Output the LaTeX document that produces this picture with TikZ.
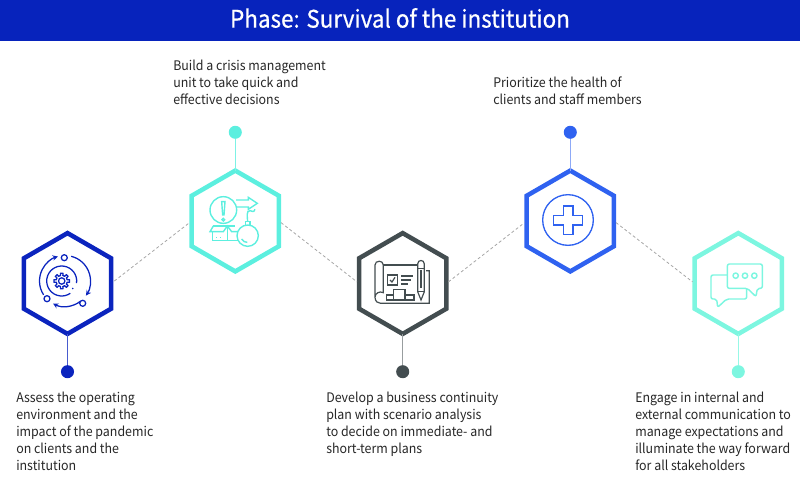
\documentclass[tikz,border=0pt]{standalone}
\usepackage{fontspec}
\setmainfont{Noto Sans CJK JP}
\usetikzlibrary{arrows.meta,shapes.geometric}
\definecolor{headblue}{HTML}{0723BC}
\definecolor{hexnavy}{HTML}{0B24BE}
\definecolor{hexteal}{HTML}{5CEFDF}
\definecolor{hexgrey}{HTML}{434D50}
\definecolor{hexblue}{HTML}{2F62F0}
\definecolor{hexmint}{HTML}{7DF6E0}
\definecolor{bodytext}{HTML}{262626}
\newfontfamily\bodyfont[FakeStretch=0.94]{Noto Sans CJK JP}
\newfontfamily\titlefont[FakeStretch=0.93, FakeBold=0.6]{Noto Sans CJK JP}
\tikzset{
	hexnode/.style={regular polygon, regular polygon sides=6, shape border rotate=30, draw=#1, line width=3.4pt, minimum size=75.6pt, inner sep=0pt, outer sep=0pt},
	dotnode/.style={circle, fill=#1, minimum size=9.8pt, inner sep=0pt},
	dashlink/.style={draw=black!35, line width=0.6pt, dash pattern=on 2.2pt off 1.8pt},
	bodynode/.style={anchor=north west, inner sep=0pt, align=left, text=bodytext, font=\bodyfont\fontsize{9.9}{12.75}\selectfont},
}

\begin{document}
\begin{tikzpicture}[x=0.75pt, y=0.75pt]
		%%%%% START %%%%%
		\useasboundingbox (0, 0) rectangle (800, -500);
		
		\fill[headblue] (0, 0) rectangle (800, -41);
		\node[text=white, font=\titlefont\fontsize{18.1}{22}\selectfont] (title) at (400, -18) {Phase: Survival of the institution};
		
		\node[hexnode=hexnavy] (hex1) at (67.5, -283.5) {};
		\node[hexnode=hexteal] (hex2) at (235.3, -221) {};
		\node[hexnode=hexgrey] (hex3) at (402.7, -283.5) {};
		\node[hexnode=hexblue] (hex4) at (570.3, -221) {};
		\node[hexnode=hexmint] (hex5) at (738.3, -283.5) {};
		
		\node[dotnode=hexnavy] (dot1) at (67.5, -371.7) {};
		\node[dotnode=hexteal] (dot2) at (235.3, -132.3) {};
		\node[dotnode=hexgrey] (dot3) at (402.7, -371.7) {};
		\node[dotnode=hexblue] (dot4) at (570.3, -132.3) {};
		\node[dotnode=hexmint] (dot5) at (738.3, -371.7) {};
		
		\draw[hexnavy!75, line width=0.75pt] (hex1) -- (dot1);
		\draw[hexteal!80, line width=0.75pt] (hex2) -- (dot2);
		\draw[hexgrey!55, line width=1.1pt] (hex3) -- (dot3);
		\draw[hexblue!55, line width=0.9pt] (hex4) -- (dot4);
		\draw[hexmint!80, line width=0.75pt] (hex5) -- (dot5);
		
		\draw[dashlink, shorten <=3pt, shorten >=2pt] (hex1.east) -- (hex2.west);
		\draw[dashlink, shorten <=2pt, shorten >=2pt] (hex2.east) -- (hex3.west);
		\draw[dashlink, shorten <=2pt, shorten >=2pt] (hex3.east) -- (hex4.west);
		\draw[dashlink, shorten <=2pt, shorten >=2pt] (hex4.east) -- (hex5.west);
		
		% gear and cycle
		\begin{scope}[draw=hexnavy, line width=0.95pt]
			\draw (64.3, -257.7) circle (3);
			\draw (82.7, -303.3) circle (3);
			\draw (47, -298.7) circle (3);
			\draw[-{Stealth[open, length=4pt, width=4pt]}] (65, -281) ++(213:25.5) arc (213:106:25.5);
			\draw[-{Stealth[open, length=4pt, width=4pt]}] (65, -281) ++(76:25.5) arc (76:-35:25.5);
			\draw[-{Stealth[open, length=4pt, width=4pt]}] (65, -281) ++(-52:25.5) arc (-52:-118:25.5);
			\draw (61.7, -281) ++(-8:15) arc (-8:305:15);
			\fill[hexnavy] (72.7, -288.5) circle (0.9);
			\draw (61.7, -281) circle (3.2);
			\begin{scope}[shift={(61.7, -281)}]
				\foreach \a in {0,45,...,315}
					\draw[line join=round] (\a-24:5.6) -- (\a-12:5.6) -- (\a-9:7.9) -- (\a+9:7.9) -- (\a+12:5.6) -- (\a+24:5.6);
			\end{scope}
		\end{scope}
		
		% alarm, box and bomb
		\begin{scope}[shift={(170, -120)}, x=0.25pt, y=-0.25pt, draw=hexteal, line width=1.05pt]
			\draw (160, 270) circle (40);
			\draw (155, 245) -- (165, 245) -- (162, 285) -- (158, 285) -- cycle;
			\draw (160, 299) circle (4);
			\draw (198, 240) -- (235, 240) -- (235, 232) -- (262, 250) -- (235, 268) -- (235, 261) -- (198, 261);
			\draw (128, 335) -- (128, 362) -- (205, 362);
			\draw (172, 318) -- (172, 362);
			\draw (130, 318) -- (195, 318);
			\draw (130, 318) -- (120, 335) -- (160, 335) -- (172, 318) -- (185, 335) -- (205, 335);
			\draw[dotted] (138, 352) -- (160, 352);
			\draw[fill=white] (233, 347) circle (32);
			\draw (226, 315) -- (226, 305) -- (240, 305) -- (240, 315);
			\draw (233, 305) .. controls (232, 290) and (228, 272) .. (240, 272) .. controls (248, 272) and (250, 280) .. (255, 268);
			\draw (215, 357) .. controls (220, 365) and (226, 367) .. (232, 367);
		\end{scope}
		
		% blueprint and pencil
		\begin{scope}[shift={(340, -220)}, x=0.25pt, y=-0.25pt, draw=hexgrey, line width=0.9pt]
			\draw (105, 232) -- (105, 135) .. controls (105, 120) and (130, 120) .. (130, 135) -- (130, 218) .. controls (118, 212) and (105, 220) .. (105, 232) .. controls (105, 245) and (115, 250) .. (122, 250) -- (268, 250) -- (268, 152) -- (258, 152);
			\draw (130, 135) -- (232, 135);
			\draw (233, 132) .. controls (233, 118) and (253, 118) .. (253, 132) -- (253, 215) -- (243, 240) -- (233, 215) -- cycle;
			\draw (233, 145) -- (253, 145);
			\draw (233, 215) -- (253, 215);
			\draw (243, 150) -- (243, 205);
			\draw (142, 165) rectangle (172, 195);
			\draw (150, 180) -- (156, 186) -- (165, 172);
			\draw (183, 168) -- (220, 168);
			\draw (183, 180) -- (212, 180);
			\draw (183, 192) -- (205, 192);
			\draw (140, 240) -- (140, 225) -- (160, 225) -- (160, 208) -- (195, 208) -- (195, 225) -- (222, 225) -- (222, 240) -- cycle;
			\draw (160, 225) -- (160, 240);
			\draw (195, 225) -- (195, 240);
		\end{scope}
		
		% medical cross
		\begin{scope}[shift={(510, -120)}, x=0.25pt, y=-0.25pt, draw=hexblue, line width=1pt]
			\draw (174, 300) circle (76);
			\draw (160, 258) -- (189, 258) -- (189, 286) -- (218, 286) -- (218, 315) -- (189, 315) -- (189, 343) -- (160, 343) -- (160, 315) -- (131, 315) -- (131, 286) -- (160, 286) -- cycle;
		\end{scope}
		
		% speech bubbles
		\begin{scope}[shift={(670, -220)}, x=0.25pt, y=-0.25pt, draw=hexmint, line width=1.1pt, line join=round]
			\draw[rounded corners=1.5pt] (172, 132) -- (277, 132) -- (277, 205) -- (262, 205) -- (258, 230) -- (232, 205) -- (172, 205) -- cycle;
			\draw (197, 167) circle (8);
			\draw (225, 167) circle (8);
			\draw (253, 167) circle (8);
			\draw[rounded corners=1.5pt] (172, 165) -- (123, 165) -- (123, 237) -- (140, 237) -- (143, 262) -- (170, 237) -- (230, 237) -- (230, 205);
		\end{scope}
		
		\node[bodynode] (txt1) at (16, -391.5) {Assess the operating\\environment and the\\impact of the pandemic\\on clients and the\\institution};
		\node[bodynode] (txt2) at (173, -59.5) {Build a crisis management\\unit to take quick and\\effective decisions};
		\node[bodynode] (txt3) at (326, -391.5) {Develop a business continuity\\plan with scenario analysis\\to decide on immediate- and\\short-term plans};
		\node[bodynode] (txt4) at (493, -76.5) {Prioritize the health of\\clients and staff members};
		\node[bodynode] (txt5) at (635, -391.5) {Engage in internal and\\external communication to\\manage expectations and\\illuminate the way forward\\for all stakeholders};
		
		%%%%% END %%%%%
	\end{tikzpicture}
\end{document}
